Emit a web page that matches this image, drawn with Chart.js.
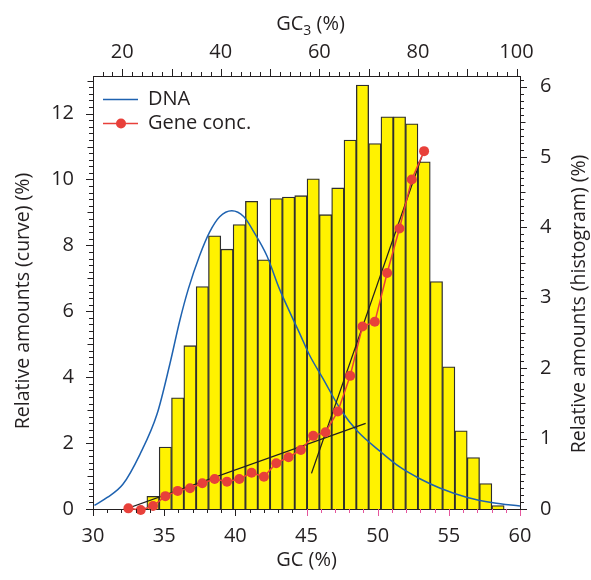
<!DOCTYPE html>
<html>
<head>
<meta charset="utf-8">
<title>GC distribution</title>
<script src="https://cdn.jsdelivr.net/npm/chart.js@4.4.0/dist/chart.umd.min.js"></script>
<style>
  html, body { margin: 0; padding: 0; background: #fff; }
  canvas { display: block; }
</style>
</head>
<body>
<canvas id="gcChart" width="591" height="580"></canvas>
<script>
/* GC distribution: DNA curve, GC3 histogram and gene concentration */

// histogram, GC3 bins of 2.5 % (bin centres) -> right axis
const HIST_GC3    = [26.25, 28.75, 31.25, 33.75, 36.25, 38.75, 41.25, 43.75, 46.25, 48.75,
                     51.25, 53.75, 56.25, 58.75, 61.25, 63.75, 66.25, 68.75, 71.25, 73.75,
                     76.25, 78.75, 81.25, 83.75, 86.25, 88.75, 91.25, 93.75, 96.25];
const HIST_AMOUNT = [0.18, 0.88, 1.58, 2.32, 3.16, 3.88, 3.69, 4.04, 4.37, 3.54,
                     4.41, 4.43, 4.45, 4.69, 4.18, 4.56, 5.24, 6.02, 5.19, 5.57,
                     5.57, 5.47, 4.93, 3.23, 2.02, 1.11, 0.73, 0.36, 0.05];

// DNA curve (GC %) -> left axis
const DNA_GC     = [30.1, 31.0, 32.1, 33.3, 34.5, 35.4, 36.1, 36.7, 37.5, 38.2, 38.9, 39.75,
                    40.6, 41.3, 42.2, 43.1, 43.85, 44.55, 45.2, 46.1, 47.5, 48.6, 50.2,
                    51.6, 53.0, 54.4, 56.3, 58.1, 60.0];
const DNA_AMOUNT = [0.11, 0.35, 0.75, 1.66, 2.88, 4.40, 5.72, 6.68, 7.70, 8.41, 8.87, 9.05,
                    8.87, 8.41, 7.70, 6.68, 5.95, 5.30, 4.68, 4.00, 2.95, 2.35, 1.74,
                    1.26, 0.91, 0.63, 0.35, 0.19, 0.09];

// gene concentration per GC3 bin -> left axis
const GENE_GC3  = [21.25, 23.75, 26.25, 28.75, 31.25, 33.75, 36.25, 38.75, 41.25, 43.75,
                   46.25, 48.75, 51.25, 53.75, 56.25, 58.75, 61.25, 63.75, 66.25, 68.75,
                   71.25, 73.75, 76.25, 78.75, 81.25];
const GENE_CONC = [0.02, -0.03, 0.09, 0.39, 0.55, 0.63, 0.78, 0.91, 0.83, 0.91,
                   1.10, 0.98, 1.39, 1.57, 1.79, 2.22, 2.33, 2.96, 4.04, 5.54,
                   5.68, 7.16, 8.51, 10.0, 10.86];

// straight fits through the gene points
const FIT_LOW_GC3  = [20.7, 69.4];
const FIT_LOW_Y    = [0.0, 2.6];
const FIT_HIGH_GC3 = [58.4, 80.8];
const FIT_HIGH_Y   = [1.08, 10.7];

// axes
const GC_TICKS    = [30, 35, 40, 45, 50, 55, 60];
const GC3_TICKS   = [20, 40, 60, 80, 100];
const CURVE_TICKS = [0, 2, 4, 6, 8, 10, 12];
const HIST_TICKS  = [0, 1, 2, 3, 4, 5, 6];
const GC_RANGE    = [30, 60];
const GC3_RANGE   = [14.07, 100.71];
const CURVE_RANGE = [0, 13.14];
const HIST_RANGE  = [0, 6.15];

const INK   = "#231f20";
const BLUE  = "#1e62b0";
const RED   = "#e8403a";
const PINK  = "#e5559c";
const FONT  = "'Open Sans', sans-serif";

// minor tick layout per axis (step sizes in axis units)
const TICK_MARKS = [
  { id: "x",  major: 5,  mid: 0,   minor: 1,   pinkFrom: 45 },
  { id: "x2", major: 10, mid: 0,   minor: 2 },
  { id: "y",  major: 2,  mid: 1,   minor: 0.2 },
  { id: "y2", major: 1,  mid: 0.5, minor: 0.1 },
];

const zip = (xs, ys) => xs.map((x, i) => ({ x, y: ys[i] }));
const onStep = (v, step) => step && Math.abs(v / step - Math.round(v / step)) < 1e-6;

const axisTicks = {
  id: "axisTicks",
  afterDraw(chart) {
    const { ctx, chartArea: a } = chart;
    ctx.save();
    ctx.lineWidth = 1;
    TICK_MARKS.forEach(t => {
      const s  = chart.scales[t.id];
      const n0 = Math.ceil(s.min / t.minor - 1e-6);
      const n1 = Math.floor(s.max / t.minor + 1e-6);
      for (let n = n0; n <= n1; n++) {
        const v   = +(n * t.minor).toFixed(4);
        const len = onStep(v, t.major) ? 7 : onStep(v, t.mid) ? 5.5 : 4;
        const p   = Math.round(s.getPixelForValue(v)) + 0.5;
        ctx.strokeStyle = t.pinkFrom !== undefined && v >= t.pinkFrom ? PINK : INK;
        ctx.beginPath();
        if (s.position === "bottom")     { ctx.moveTo(p, a.bottom); ctx.lineTo(p, a.bottom + len); }
        else if (s.position === "top")   { ctx.moveTo(p, a.top);    ctx.lineTo(p, a.top - len); }
        else if (s.position === "left")  { ctx.moveTo(a.left, p);   ctx.lineTo(a.left - len, p); }
        else                             { ctx.moveTo(a.right, p);  ctx.lineTo(a.right + len, p); }
        ctx.stroke();
      }
    });
    ctx.restore();
  },
};

function rotatedText(ctx, text, x, y) {
  ctx.save();
  ctx.translate(x, y);
  ctx.rotate(-Math.PI / 2);
  ctx.fillText(text, 0, 0);
  ctx.restore();
}

const extras = {
  id: "extras",
  afterDraw(chart) {
    const { ctx, chartArea: a } = chart;
    ctx.save();
    ctx.fillStyle = INK;
    ctx.font = `20px ${FONT}`;
    ctx.textBaseline = "middle";

    // legend
    ctx.lineWidth = 1.5;
    ctx.strokeStyle = BLUE;
    ctx.beginPath(); ctx.moveTo(103, 99.5); ctx.lineTo(138, 99.5); ctx.stroke();
    ctx.fillText("DNA", 148, 99.5);
    ctx.strokeStyle = RED;
    ctx.beginPath(); ctx.moveTo(103, 123.5); ctx.lineTo(138, 123.5); ctx.stroke();
    ctx.fillStyle = RED;
    ctx.beginPath(); ctx.arc(121, 123.5, 5, 0, Math.PI * 2); ctx.fill();
    ctx.fillStyle = INK;
    ctx.fillText("Gene conc.", 148, 123.5);

    // top title with subscript
    const cx = (a.left + a.right) / 2 + 4;
    const parts = [["GC", 20, 0], ["3", 14, 5], [" (%)", 20, 0]];
    let w = 0;
    parts.forEach(([t, sz]) => { ctx.font = `${sz}px ${FONT}`; w += ctx.measureText(t).width; });
    let x = cx - w / 2;
    ctx.textBaseline = "alphabetic";
    parts.forEach(([t, sz, dy]) => {
      ctx.font = `${sz}px ${FONT}`;
      ctx.fillText(t, x, 30 + dy);
      x += ctx.measureText(t).width;
    });

    // side titles, both reading upwards
    ctx.font = `19.5px ${FONT}`;
    ctx.textAlign = "center";
    ctx.textBaseline = "middle";
    rotatedText(ctx, "Relative amounts (curve) (%)", 23, 301);
    rotatedText(ctx, "Relative amounts (histogram) (%)", 579, 304);
    ctx.restore();
  },
};

Chart.defaults.font.family = FONT;
Chart.defaults.font.size   = 20;
Chart.defaults.color       = INK;

const fixedTicks = list => scale => { scale.ticks = list.map(value => ({ value })); };
const noGrid = { display: false, drawTicks: false };
const frame  = { display: true, color: INK, width: 1 };

new Chart(document.getElementById("gcChart"), {
  type: "bar",
  data: {
    datasets: [
      {
        type: "line",
        label: "Gene conc.",
        data: zip(GENE_GC3, GENE_CONC),
        xAxisID: "x2", yAxisID: "y",
        borderColor: RED, borderWidth: 1.5,
        pointRadius: 5, pointBackgroundColor: RED, pointBorderWidth: 0,
        clip: false, order: 1,
      },
      {
        type: "line",
        label: "fit low",
        data: zip(FIT_LOW_GC3, FIT_LOW_Y),
        xAxisID: "x2", yAxisID: "y",
        borderColor: INK, borderWidth: 1.3, pointRadius: 0, order: 2,
      },
      {
        type: "line",
        label: "fit high",
        data: zip(FIT_HIGH_GC3, FIT_HIGH_Y),
        xAxisID: "x2", yAxisID: "y",
        borderColor: INK, borderWidth: 1.3, pointRadius: 0, order: 2,
      },
      {
        type: "line",
        label: "DNA",
        data: zip(DNA_GC, DNA_AMOUNT),
        xAxisID: "x", yAxisID: "y",
        borderColor: BLUE, borderWidth: 1.5, pointRadius: 0,
        cubicInterpolationMode: "monotone", order: 3,
      },
      {
        type: "bar",
        label: "Histogram",
        data: zip(HIST_GC3, HIST_AMOUNT),
        xAxisID: "x2", yAxisID: "y2",
        backgroundColor: "#fff200",
        borderColor: "#2e2e2e", borderWidth: 1.3,
        grouped: false,
        barPercentage: 1, categoryPercentage: 1,
        order: 4,
      },
    ],
  },
  options: {
    responsive: false,
    animation: false,
    events: [],
    layout: { padding: 0 },
    plugins: { legend: { display: false }, tooltip: { enabled: false } },
    scales: {
      x: {
        type: "linear", position: "bottom", offset: false,
        min: GC_RANGE[0], max: GC_RANGE[1],
        afterBuildTicks: fixedTicks(GC_TICKS),
        afterFit: s => { s.height = 71; },
        grid: noGrid, border: frame,
        ticks: { padding: 15, maxRotation: 0 },
        title: { display: true, text: "GC (%)", padding: { top: 0, bottom: 8 } },
      },
      x2: {
        type: "linear", position: "top", offset: false,
        min: GC3_RANGE[0], max: GC3_RANGE[1],
        afterBuildTicks: fixedTicks(GC3_TICKS),
        afterFit: s => { s.height = 76; },
        grid: noGrid, border: frame,
        ticks: { padding: 12, maxRotation: 0 },
      },
      y: {
        type: "linear", position: "left",
        min: CURVE_RANGE[0], max: CURVE_RANGE[1],
        afterBuildTicks: fixedTicks(CURVE_TICKS),
        afterFit: s => { s.width = 93; },
        grid: noGrid, border: frame,
        ticks: { padding: 19 },
      },
      y2: {
        type: "linear", position: "right",
        min: HIST_RANGE[0], max: HIST_RANGE[1],
        afterBuildTicks: fixedTicks(HIST_TICKS),
        afterFit: s => { s.width = 71; },
        grid: noGrid, border: frame,
        ticks: { padding: 20 },
      },
    },
  },
  plugins: [axisTicks, extras],
});
</script>
</body>
</html>
